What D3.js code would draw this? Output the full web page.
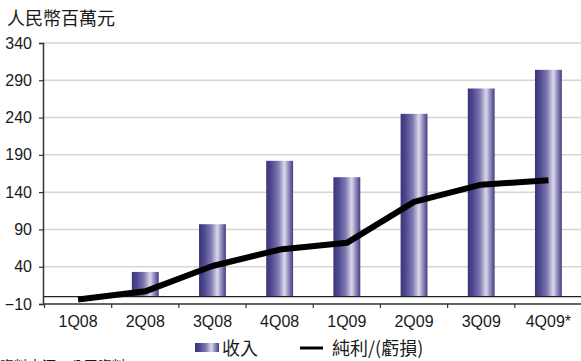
<!DOCTYPE html>
<html>
<head>
<meta charset="utf-8">
<script src="https://cdn.jsdelivr.net/npm/d3@7"></script>
<style>
  html, body { margin: 0; padding: 0; background: #ffffff; }
  svg { display: block; font-family: "Liberation Sans", Arial, "Noto Sans CJK TC", sans-serif; }
</style>
</head>
<body>
<svg id="chart" width="581" height="361"></svg>
<script>
// Quarterly figures, RMB millions
const quarters = ["1Q08", "2Q08", "3Q08", "4Q08", "1Q09", "2Q09", "3Q09", "4Q09*"];
const revenue = [0, 33, 97, 182, 160, 245, 279, 304];
const netProfit = [-4, 7, 41, 63, 72, 127, 150, 156];
const yTicks = [-10, 40, 90, 140, 190, 240, 290, 340];

const unitLabel = "人民幣百萬元";
const revenueLabel = "收入";
const profitLabel = "純利/(虧損)";
const sourceLabel = "資料來源：公司資料";

const svg = d3.select("#chart");
const cjk = "'Noto Sans CJK TC', 'Noto Sans CJK SC', sans-serif";

const plot = { left: 43, right: 581, top: 43, bottom: 304 };

const x = d3.scaleBand()
  .domain(quarters)
  .range([plot.left + 1.5, plot.right + 1])
  .paddingInner(0.6)
  .paddingOuter(0.3);

const y = d3.scaleLinear()
  .domain([-10, 340])
  .range([plot.bottom, plot.top]);

// Bar fill: dark edges with a pale highlight right of centre
const defs = svg.append("defs");
const grad = defs.append("linearGradient")
  .attr("id", "barFill")
  .attr("x1", "0%").attr("x2", "100%").attr("y1", "0%").attr("y2", "0%");
[
  [0, "#3b3676"],
  [0.18, "#4c4790"],
  [0.45, "#7e79b2"],
  [0.68, "#dcd8e8"],
  [0.84, "#8c87bc"],
  [1, "#443f80"]
].forEach(([o, c]) => grad.append("stop").attr("offset", o).attr("stop-color", c));

// Horizontal gridlines
svg.append("g")
  .selectAll("line")
  .data(yTicks.filter(d => d !== -10))
  .join("line")
  .attr("x1", plot.left)
  .attr("x2", plot.right)
  .attr("y1", d => y(d))
  .attr("y2", d => y(d))
  .attr("stroke", "#d6d6cf")
  .attr("stroke-width", 1.5);

// Revenue bars
svg.append("g")
  .selectAll("rect")
  .data(quarters.map((q, i) => ({ q, v: revenue[i] })))
  .join("rect")
  .attr("x", d => x(d.q))
  .attr("width", x.bandwidth())
  .attr("y", d => y(Math.max(0, d.v)))
  .attr("height", d => Math.abs(y(d.v) - y(0)))
  .attr("fill", "url(#barFill)");

// Zero line
svg.append("line")
  .attr("x1", plot.left)
  .attr("x2", plot.right)
  .attr("y1", y(0))
  .attr("y2", y(0))
  .attr("stroke", "#222")
  .attr("stroke-width", 1.2);

// Net profit line
const line = d3.line()
  .x((d, i) => x(quarters[i]) + x.bandwidth() / 2)
  .y(d => y(d));

svg.append("path")
  .datum(netProfit)
  .attr("d", line)
  .attr("fill", "none")
  .attr("stroke", "#000")
  .attr("stroke-width", 6)
  .attr("stroke-linejoin", "round")
  .attr("stroke-linecap", "butt");

// Left axis
const yAxis = d3.axisLeft(y)
  .tickValues(yTicks)
  .tickSize(4)
  .tickPadding(7)
  .tickFormat(d3.format("d"));

const yg = svg.append("g")
  .attr("transform", `translate(${plot.left},0)`)
  .call(yAxis);
yg.select(".domain").attr("stroke", "#333").attr("stroke-width", 1.5);
yg.selectAll(".tick line").attr("stroke", "#333").attr("stroke-width", 1.2);
yg.selectAll(".tick text")
  .attr("font-size", 16)
  .attr("fill", "#1a1a1a")
  .attr("font-family", "'Liberation Sans', Arial, sans-serif");

// Bottom axis: category labels centred, ticks on band edges
const step = x.step();
const xg = svg.append("g")
  .attr("transform", `translate(0,${plot.bottom})`);
xg.append("line")
  .attr("x1", plot.left)
  .attr("x2", plot.right)
  .attr("stroke", "#333")
  .attr("stroke-width", 1.5);
xg.selectAll("line.edge")
  .data(quarters)
  .join("line")
  .attr("class", "edge")
  .attr("x1", d => x(d) - x.bandwidth() * 0.75)
  .attr("x2", d => x(d) - x.bandwidth() * 0.75)
  .attr("y1", 0)
  .attr("y2", 4)
  .attr("stroke", "#333")
  .attr("stroke-width", 1.2);
xg.selectAll("text")
  .data(quarters)
  .join("text")
  .attr("x", d => x(d) + x.bandwidth() / 2)
  .attr("y", 23)
  .attr("text-anchor", "middle")
  .attr("font-size", 16)
  .attr("fill", "#1a1a1a")
  .attr("font-family", "'Liberation Sans', Arial, sans-serif")
  .text(d => d);

// Unit label
svg.append("text")
  .attr("x", 7)
  .attr("y", 25)
  .attr("font-size", 18)
  .attr("font-family", cjk)
  .attr("fill", "#1a1a1a")
  .text(unitLabel);

// Legend
const lg = svg.append("g");
lg.append("rect")
  .attr("x", 195).attr("y", 343)
  .attr("width", 24).attr("height", 9)
  .attr("fill", "url(#barFill)");
lg.append("text")
  .attr("x", 222).attr("y", 355)
  .attr("font-size", 18)
  .attr("font-family", cjk)
  .attr("fill", "#1a1a1a")
  .text(revenueLabel);
lg.append("line")
  .attr("x1", 300).attr("x2", 323)
  .attr("y1", 348).attr("y2", 348)
  .attr("stroke", "#000")
  .attr("stroke-width", 3);
lg.append("text")
  .attr("x", 332).attr("y", 355)
  .attr("font-size", 18)
  .attr("font-family", cjk)
  .attr("fill", "#1a1a1a")
  .text(profitLabel);

// Source note along the bottom edge
svg.append("text")
  .attr("x", 0).attr("y", 371)
  .attr("font-size", 14)
  .attr("font-family", cjk)
  .attr("fill", "#1a1a1a")
  .text(sourceLabel);
</script>
</body>
</html>
